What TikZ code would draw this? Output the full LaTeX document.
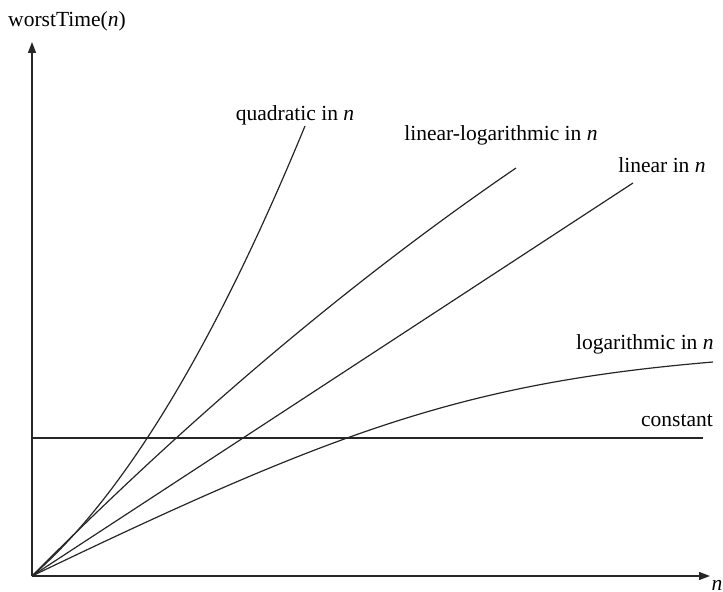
\documentclass[tikz,border=0pt]{standalone}
\usepackage{fontspec}
\setmainfont{Liberation Serif}
\usetikzlibrary{arrows.meta}
\begin{document}
\begin{tikzpicture}[x=0.5bp,y=-0.5bp,
  curve/.style={line width=0.6bp,draw=black!85},
  axis/.style={line width=0.6bp,draw=black!85,-{Triangle[length=5.5bp,width=4bp]}},
  lbl/.style={inner sep=0pt,font=\fontsize{10.8}{13}\selectfont}]
\useasboundingbox (0,0) rectangle (723,592);
% axes
\coordinate (O) at (32,576);
\coordinate (Ytop) at (32,42);
\coordinate (Xend) at (710,576);
\draw[axis] (O) -- (Ytop);
\draw[axis] (O) -- (Xend);
\node[lbl] (ylab) at (67,21) {worstTime(\textit{n})};
\node[lbl] (xlab) at (717,585) {\textit{n}};
% end points
\coordinate (Q) at (305,126);
\coordinate (LL) at (516,168);
\coordinate (L) at (633,183);
\coordinate (G) at (713,362);
\coordinate (C0) at (32,438);
\coordinate (C1) at (703,438);
% curves
\draw[curve] (O) .. controls (123,497) and (214,347) .. (Q);
\draw[curve] (O) .. controls (193,414) and (355,278) .. (LL);
\draw[curve] (O) -- (L);
\draw[curve] (O) .. controls (332,432) and (463,383) .. (G);
\draw[curve] (C0) -- (C1);
% labels
\node[lbl] (lq) at (295,115) {quadratic in \textit{n}};
\node[lbl] (lll) at (501,135) {linear-logarithmic in \textit{n}};
\node[lbl] (ll) at (662,165) {linear in \textit{n}};
\node[lbl,anchor=east] (lg) at (714,344) {logarithmic in \textit{n}};
\node[lbl] (lc) at (677,421) {constant};
\end{tikzpicture}
\end{document}
